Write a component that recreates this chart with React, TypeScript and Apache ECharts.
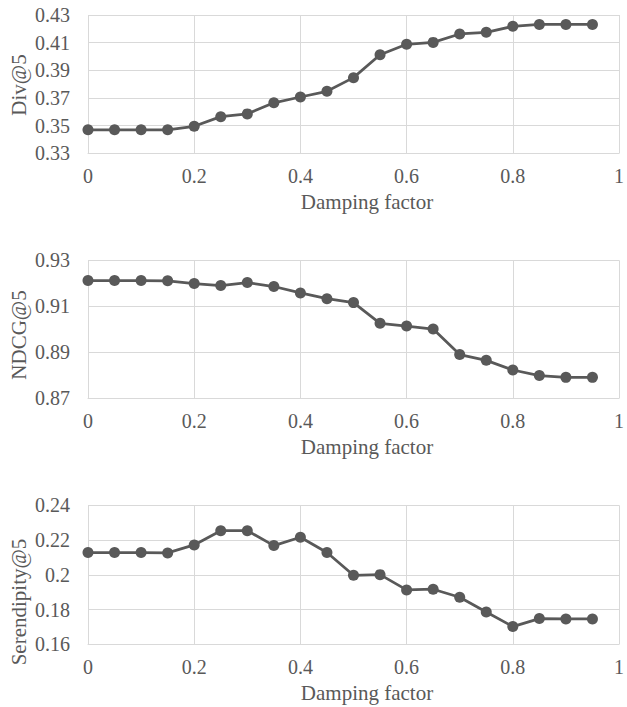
import React, { useEffect, useRef } from "react";
import * as echarts from "echarts";

const dampingFactors = [0, 0.05, 0.1, 0.15, 0.2, 0.25, 0.3, 0.35, 0.4, 0.45, 0.5, 0.55, 0.6, 0.65, 0.7, 0.75, 0.8, 0.85, 0.9, 0.95];
const divValues = [0.347, 0.347, 0.347, 0.347, 0.3495, 0.3565, 0.3585, 0.3665, 0.3707, 0.3748, 0.3847, 0.4013, 0.4088, 0.4102, 0.4163, 0.4175, 0.4218, 0.4232, 0.4232, 0.4232];
const ndcgValues = [0.9212, 0.9212, 0.9212, 0.9211, 0.9199, 0.919, 0.9203, 0.9186, 0.9158, 0.9133, 0.9116, 0.9026, 0.9014, 0.9001, 0.889, 0.8865, 0.8823, 0.8799, 0.8791, 0.8791];
const serendipityValues = [0.2128, 0.2128, 0.2128, 0.2126, 0.2172, 0.2254, 0.2254, 0.2168, 0.2216, 0.2128, 0.1997, 0.2001, 0.1913, 0.1917, 0.1871, 0.1786, 0.1702, 0.1748, 0.1746, 0.1746];

const xAxisTitle = "Damping factor";
const yAxisNames = ["Div@5", "NDCG@5", "Serendipity@5"];
const yMins = [0.33, 0.87, 0.16];
const yMaxs = [0.43, 0.93, 0.24];
const yInterval = 0.02;

const FONT = "'Liberation Serif', 'Times New Roman', serif";
const TEXT = "#595959";
const GRIDC = "#d9d9d9";
const LINE = "#595959";

export default function App() {
  const ref = useRef<HTMLDivElement>(null);
  useEffect(() => {
    if (!ref.current) return;
    const chart = echarts.init(ref.current, undefined, { renderer: "svg" });
    const grids = [
      { left: 88, top: 15, width: 534, height: 138.3 },
      { left: 88, top: 260.3, width: 534, height: 138 },
      { left: 88, top: 505.3, width: 534, height: 139 },
    ];
    const seriesData = [divValues, ndcgValues, serendipityValues];
    const titleY = [202, 447, 693];
    const nameY = [85, 335, 602];
    const option: any = {
      animation: false,
      grid: grids,
      xAxis: grids.map((_, i) => ({
        type: "value",
        gridIndex: i,
        min: 0,
        max: 1,
        interval: 0.2,
        axisLine: { show: true, lineStyle: { color: GRIDC, width: 1 } },
        axisTick: { show: false },
        splitLine: { show: true, lineStyle: { color: GRIDC, width: 1 } },
        axisLabel: { color: TEXT, fontFamily: FONT, fontSize: 20, margin: 13 },
      })),
      yAxis: grids.map((_, i) => ({
        type: "value",
        gridIndex: i,
        min: yMins[i],
        max: yMaxs[i],
        interval: yInterval,
        axisLine: { show: false },
        axisTick: { show: false },
        splitLine: { show: true, lineStyle: { color: GRIDC, width: 1 } },
        axisLabel: { color: TEXT, fontFamily: FONT, fontSize: 20, margin: 18 },
      })),
      series: seriesData.map((vals, i) => ({
        type: "line",
        xAxisIndex: i,
        yAxisIndex: i,
        data: dampingFactors.map((x, j) => [x, vals[j]]),
        symbol: "circle",
        symbolSize: 11,
        lineStyle: { color: LINE, width: 2.75 },
        itemStyle: { color: LINE },
      })),
      graphic: [
        ...titleY.map((y) => ({
          type: "text",
          x: 367,
          y,
          style: { text: xAxisTitle, fill: TEXT, font: `21px ${FONT}`, align: "center", verticalAlign: "middle" },
        })),
        ...nameY.map((y, i) => ({
          type: "text",
          x: 19,
          y,
          rotation: Math.PI / 2,
          style: { text: yAxisNames[i], fill: TEXT, font: `21px ${FONT}`, align: "center", verticalAlign: "middle" },
        })),
      ],
    };
    chart.setOption(option);
    return () => chart.dispose();
  }, []);
  return <div ref={ref} style={{ position: "fixed", left: 0, top: 0, width: 627, height: 707, background: "#fff" }} />;
}
